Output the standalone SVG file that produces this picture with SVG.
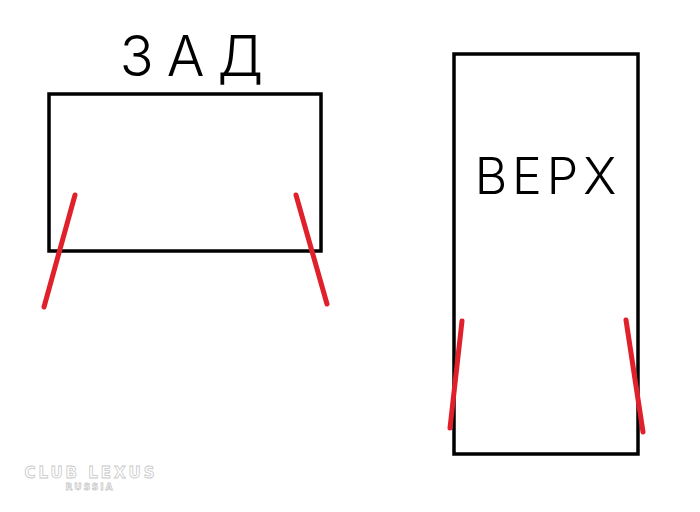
<svg xmlns="http://www.w3.org/2000/svg" width="700" height="512" viewBox="0 0 700 512">
<style>
.box{fill:none;stroke:#000;stroke-width:3.5}
.red{stroke:#e0212b;stroke-width:5;stroke-linecap:round}
.hand{font-family:Inter,"DejaVu Sans","Liberation Sans",sans-serif;font-weight:300;fill:#000}
.wm{font-family:"DejaVu Sans","Liberation Sans",sans-serif;font-weight:bold;fill:#fff;stroke:#c8c8c8;stroke-width:0.8}
</style>
<rect width="700" height="512" fill="#fff"/>
<g id="rear">
<rect class="box" x="49" y="94" width="272" height="157"/>
<text class="hand" x="198" y="76" font-size="56" text-anchor="middle" letter-spacing="13">ЗАД</text>
</g>
<g id="top">
<rect class="box" x="454" y="54" width="184" height="400"/>
<text class="hand" x="548" y="194" font-size="50" text-anchor="middle" letter-spacing="5">ВЕРХ</text>
</g>
<g id="connectors">
<line class="red" x1="75" y1="195" x2="44" y2="307"/>
<line class="red" x1="296" y1="195" x2="327" y2="304"/>
<line class="red" x1="462" y1="321" x2="450" y2="428"/>
<line class="red" x1="626" y1="320" x2="643" y2="432"/>
</g>
<g id="watermark">
<text class="wm" x="91" y="478" font-size="15" text-anchor="middle" letter-spacing="3">CLUB LEXUS</text>
<text class="wm" x="90" y="490" font-size="9" text-anchor="middle" letter-spacing="2">RUSSIA</text>
</g>
</svg>
